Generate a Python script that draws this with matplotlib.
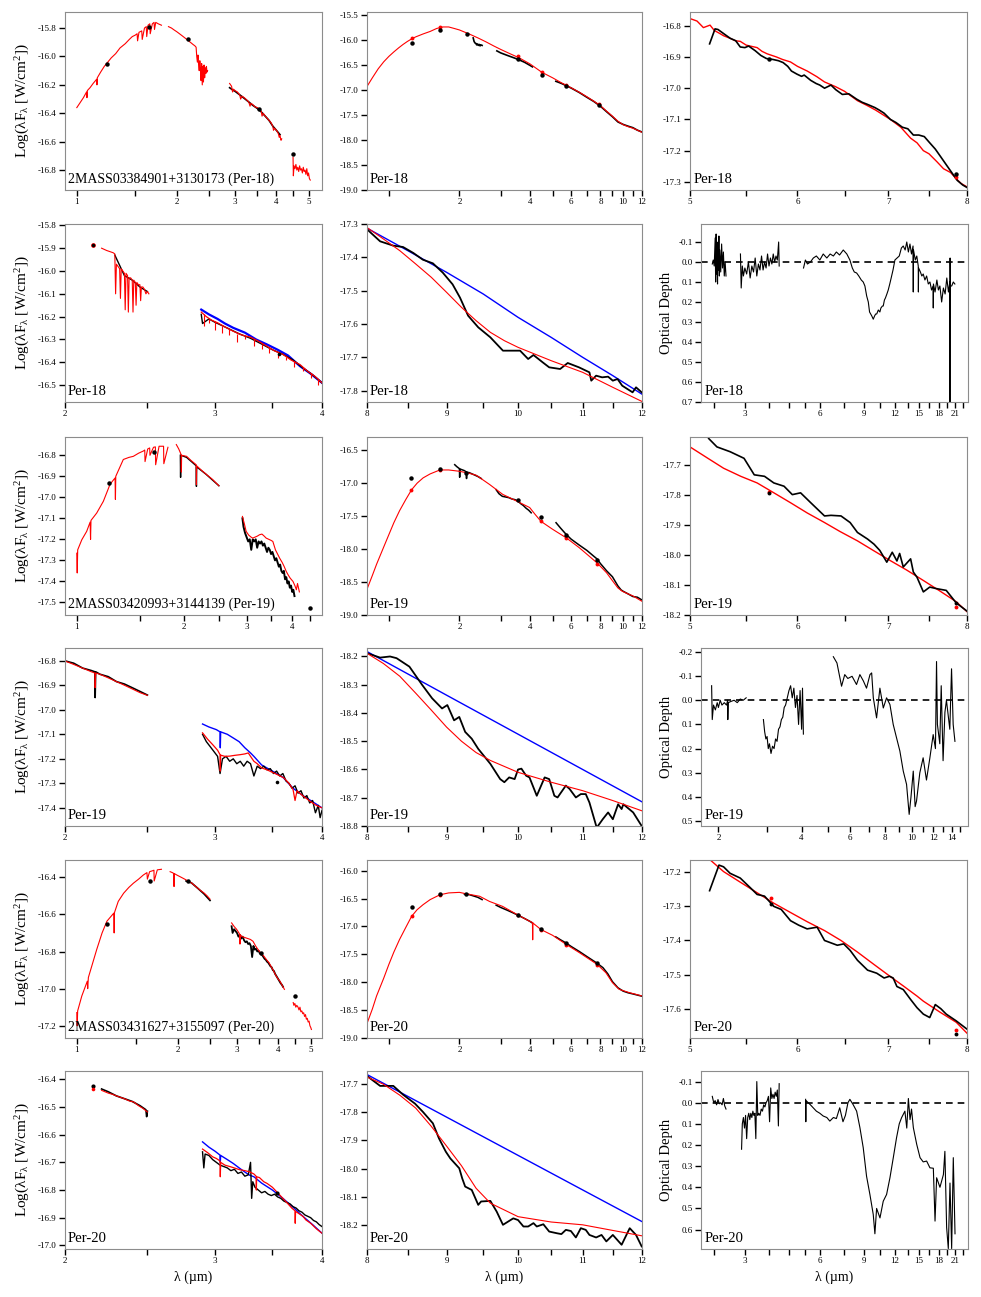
import matplotlib
matplotlib.use("Agg")
import matplotlib.pyplot as plt
from matplotlib.ticker import FormatStrFormatter, NullFormatter, NullLocator

plt.rcParams['font.family'] = ['Liberation Serif', 'DejaVu Serif']
plt.rcParams['mathtext.fontset'] = 'custom'
plt.rcParams['mathtext.rm'] = 'Liberation Serif'
plt.rcParams['mathtext.it'] = 'Liberation Serif:italic'
plt.rcParams['axes.unicode_minus'] = False

# ---------------- Per-18 ----------------
# near-IR SED (row 1, left)
p18_nir_r1_x = [1.00, 1.02, 1.047, 1.07, 1.073, 1.076, 1.096, 1.12, 1.148, 1.15, 1.153, 1.18, 1.21, 1.23, 1.27, 1.31,
                1.35, 1.40, 1.44, 1.47, 1.50, 1.52, 1.525, 1.54, 1.57, 1.575, 1.60, 1.62, 1.625, 1.64, 1.66, 1.665,
                1.69, 1.71, 1.715, 1.73, 1.76, 1.80]
p18_nir_r1_y = [-16.36, -16.33, -16.29, -16.25, -16.29, -16.24, -16.22, -16.19, -16.16, -16.20, -16.15, -16.11, -16.07,
                -16.05, -16.01, -15.98, -15.94, -15.91, -15.88, -15.86, -15.85, -15.84, -15.89, -15.83, -15.82, -15.88,
                -15.80, -15.79, -15.86, -15.78, -15.77, -15.84, -15.77, -15.76, -15.81, -15.76, -15.77, -15.78]
p18_nir_r2_x = [1.89, 1.93, 1.97, 2.00, 2.04, 2.08, 2.12, 2.16, 2.20, 2.24, 2.27, 2.29, 2.30, 2.31, 2.32, 2.33, 2.34,
                2.35, 2.36, 2.37, 2.38, 2.39, 2.40, 2.41, 2.42, 2.43, 2.44, 2.45, 2.46, 2.47, 2.48]
p18_nir_r2_y = [-15.79, -15.80, -15.815, -15.825, -15.84, -15.855, -15.87, -15.885, -15.90, -15.915, -15.925, -15.935,
                -16.00, -16.04, -15.99, -16.06, -16.10, -16.03, -16.08, -16.17, -16.05, -16.20, -16.07, -16.18, -16.06,
                -16.15, -16.08, -16.12, -16.07, -16.11, -16.10]
p18_nir_r3_x = [2.89, 2.93, 2.95, 2.97, 3.00, 3.05, 3.10, 3.12, 3.15, 3.20, 3.25, 3.30, 3.33, 3.35, 3.40, 3.45, 3.50,
                3.55, 3.60, 3.62, 3.65, 3.70, 3.75, 3.80, 3.85, 3.90, 3.92, 3.95, 4.00, 4.05, 4.08, 4.10, 4.13, 4.15]
p18_nir_r3_y = [-16.19, -16.21, -16.25, -16.23, -16.24, -16.25, -16.27, -16.30, -16.28, -16.29, -16.305, -16.32, -16.35,
                -16.33, -16.34, -16.355, -16.36, -16.37, -16.385, -16.42, -16.40, -16.42, -16.435, -16.45, -16.465,
                -16.49, -16.52, -16.505, -16.52, -16.54, -16.57, -16.555, -16.59, -16.58]
p18_nir_r4_x = [4.49, 4.50, 4.52, 4.55, 4.58, 4.61, 4.64, 4.67, 4.70, 4.73, 4.76, 4.79, 4.82, 4.85, 4.88, 4.91, 4.94,
                4.97, 5.00, 5.03, 5.06]
p18_nir_r4_y = [-16.71, -16.84, -16.77, -16.79, -16.76, -16.80, -16.78, -16.81, -16.77, -16.80, -16.79, -16.82, -16.78,
                -16.81, -16.80, -16.83, -16.79, -16.84, -16.82, -16.86, -16.87]
p18_nir_k_x = [2.89, 2.95, 3.00, 3.10, 3.20, 3.30, 3.40, 3.50, 3.60, 3.70, 3.80, 3.90, 4.00, 4.10]
p18_nir_k_y = [-16.22, -16.235, -16.245, -16.27, -16.295, -16.32, -16.345, -16.365, -16.39, -16.42, -16.45, -16.49,
               -16.52, -16.55]
p18_nir_dot_x = [1.235, 1.65, 2.16, 3.55, 4.49]
p18_nir_dot_y = [-16.05, -15.79, -15.88, -16.37, -16.69]

# full SED (row 1, middle)
p18_sed_red_x = [0.80, 0.85, 0.90, 0.95, 1.00, 1.05, 1.10, 1.15, 1.20, 1.25, 1.30, 1.40, 1.50, 1.60, 1.70, 1.80, 1.90,
                 2.00, 2.20, 2.40, 2.60, 2.80, 3.00, 3.30, 3.60, 4.00, 4.50, 5.00, 5.50, 6.00, 6.50, 7.00, 7.50, 8.00,
                 8.50, 9.00, 9.50, 10.0, 10.5, 11.0, 11.5, 12.0]
p18_sed_red_y = [-16.95, -16.75, -16.57, -16.43, -16.32, -16.23, -16.15, -16.08, -16.02, -15.97, -15.93, -15.87, -15.82,
                 -15.76, -15.73, -15.73, -15.76, -15.79, -15.87, -15.95, -16.03, -16.11, -16.18, -16.27, -16.35, -16.47,
                 -16.64, -16.75, -16.86, -16.95, -17.04, -17.13, -17.22, -17.31, -17.42, -17.52, -17.62, -17.69,
                 -17.73, -17.76, -17.80, -17.84]
p18_sed_k1_x = [2.29, 2.31, 2.33, 2.35, 2.37, 2.39, 2.41, 2.43, 2.45, 2.47, 2.50]
p18_sed_k1_y = [-15.95, -16.02, -16.05, -16.06, -16.09, -16.07, -16.10, -16.08, -16.11, -16.09, -16.10]
p18_sed_k2_x = [2.89, 3.0, 3.2, 3.4, 3.6, 3.8, 4.0, 4.1]
p18_sed_k2_y = [-16.21, -16.25, -16.30, -16.345, -16.39, -16.44, -16.50, -16.53]
p18_sed_k3_x = [5.16, 5.3, 5.5, 6.0, 6.5, 7.0, 7.5, 8.0, 8.5, 9.0, 9.5, 10.0, 10.5, 11.0, 11.5, 12.0]
p18_sed_k3_y = [-16.82, -16.84, -16.87, -16.955, -17.045, -17.14, -17.225, -17.32, -17.43, -17.53, -17.635, -17.685,
                -17.72, -17.75, -17.80, -17.835]
p18_sed_kdot_x = [1.25, 1.65, 2.16, 3.55, 4.49, 5.73, 7.87]
p18_sed_kdot_y = [-16.05, -15.80, -15.87, -16.37, -16.70, -16.91, -17.29]
p18_sed_rdot_x = [1.25, 1.65, 3.55, 4.49, 5.73, 7.87]
p18_sed_rdot_y = [-15.96, -15.73, -16.32, -16.64, -16.90, -17.28]

# 5-8 micron (row 1, right)
p18_irs_red_x = [5.00, 5.06, 5.115, 5.173, 5.21, 5.26, 5.293, 5.35, 5.40, 5.445, 5.50, 5.55, 5.603, 5.65, 5.70, 5.79,
                 5.85, 5.93, 6.00, 6.10, 6.20, 6.282, 6.40, 6.50, 6.643, 6.75, 6.85, 7.025, 7.15, 7.27, 7.35, 7.429,
                 7.50, 7.60, 7.688, 7.78, 7.856, 7.92, 8.00]
p18_irs_red_y = [-16.777, -16.785, -16.806, -16.798, -16.815, -16.825, -16.832, -16.84, -16.848, -16.85, -16.862,
                 -16.866, -16.870, -16.882, -16.89, -16.90, -16.908, -16.916, -16.93, -16.945, -16.963, -16.98, -16.995,
                 -17.01, -17.04, -17.055, -17.07, -17.10, -17.125, -17.16, -17.175, -17.20, -17.21, -17.235, -17.258,
                 -17.27, -17.29, -17.305, -17.316]
p18_irs_k_x = [5.169, 5.217, 5.243, 5.293, 5.352, 5.403, 5.445, 5.488, 5.523, 5.585, 5.638, 5.692, 5.755, 5.810, 5.856,
               5.902, 5.939, 5.995, 6.042, 6.069, 6.137, 6.193, 6.232, 6.282, 6.351, 6.404, 6.475, 6.546, 6.633, 6.695,
               6.758, 6.842, 6.893, 6.950, 7.025, 7.092, 7.169, 7.236, 7.304, 7.372, 7.441, 7.510, 7.581, 7.652, 7.723,
               7.795, 7.868, 7.942, 8.0]
p18_irs_k_y = [-16.858, -16.810, -16.812, -16.825, -16.840, -16.848, -16.868, -16.870, -16.865, -16.880, -16.895,
               -16.905, -16.908, -16.912, -16.918, -16.930, -16.945, -16.955, -16.962, -16.958, -16.975, -16.985,
               -16.990, -17.000, -16.990, -17.005, -17.020, -17.018, -17.035, -17.045, -17.052, -17.062, -17.070,
               -17.080, -17.100, -17.110, -17.125, -17.130, -17.150, -17.150, -17.155, -17.175, -17.195, -17.220,
               -17.245, -17.270, -17.295, -17.310, -17.318]
p18_irs_kdot_x = [5.72, 7.85]
p18_irs_kdot_y = [-16.905, -17.275]
p18_irs_rdot_x = [7.85]
p18_irs_rdot_y = [-17.285]

# 2-4 micron (row 2, left)
p18_lm_r1_x = [2.21, 2.24, 2.26, 2.28, 2.29, 2.295, 2.30, 2.31, 2.32, 2.325, 2.33, 2.34, 2.35, 2.355, 2.36, 2.37, 2.375,
               2.38, 2.39, 2.40, 2.405, 2.41, 2.42, 2.425, 2.43, 2.44, 2.45, 2.455, 2.46, 2.47, 2.48, 2.49, 2.50, 2.51]
p18_lm_r1_y = [-15.90, -15.91, -15.915, -15.92, -15.925, -16.10, -15.97, -15.98, -15.99, -16.12, -15.99, -16.00, -16.01,
               -16.17, -16.01, -16.02, -16.18, -16.03, -16.03, -16.04, -16.18, -16.04, -16.05, -16.15, -16.05, -16.06,
               -16.06, -16.13, -16.07, -16.07, -16.08, -16.10, -16.09, -16.10]
p18_lm_k1_x = [2.29, 2.35, 2.40, 2.45, 2.50]
p18_lm_k1_y = [-15.93, -16.02, -16.04, -16.07, -16.09]
p18_lm_blue_x = [2.89, 2.95, 3.02, 3.08, 3.15, 3.25, 3.35, 3.45, 3.55, 3.65, 3.77, 3.88, 4.0]
p18_lm_blue_y = [-16.169, -16.19, -16.21, -16.23, -16.249, -16.27, -16.30, -16.322, -16.345, -16.37, -16.417, -16.45,
                 -16.49]
p18_lm_r2_x = [2.89, 2.93, 2.97, 3.02, 3.08, 3.15, 3.22, 3.30, 3.38, 3.45, 3.52, 3.60, 3.68, 3.77, 3.85, 3.92, 4.0]
p18_lm_r2_y = [-16.18, -16.20, -16.215, -16.227, -16.245, -16.264, -16.28, -16.29, -16.31, -16.33, -16.35, -16.365,
               -16.39, -16.41, -16.44, -16.46, -16.49]
p18_lm_dip_x = [2.91, 2.95, 3.00, 3.06, 3.11, 3.18, 3.25, 3.33, 3.40, 3.47, 3.55, 3.63, 3.71, 3.80, 3.88, 3.96]
p18_lm_dip_top = [-16.19, -16.21, -16.22, -16.24, -16.255, -16.275, -16.285, -16.30, -16.32, -16.335, -16.355,
                  -16.375, -16.395, -16.42, -16.445, -16.475]
p18_lm_dip_bot = [-16.24, -16.23, -16.26, -16.27, -16.28, -16.31, -16.30, -16.33, -16.34, -16.36, -16.38, -16.39,
                  -16.42, -16.44, -16.47, -16.50]
p18_lm_k2_x = [2.89, 2.90, 2.95, 3.0, 3.1, 3.2, 3.3, 3.4, 3.5, 3.6, 3.7, 3.8, 3.9, 4.0]
p18_lm_k2_y = [-16.19, -16.23, -16.21, -16.225, -16.25, -16.275, -16.295, -16.32, -16.345, -16.365, -16.39, -16.425,
               -16.455, -16.49]
p18_lm_dot_x = [2.16, 3.56]
p18_lm_dot_y = [-15.885, -16.365]

# 8-12 micron (row 2, middle)
p18_si_blue_x = [8.0, 8.5, 9.0, 9.5, 10.0, 10.5, 11.0, 11.5, 12.0]
p18_si_blue_y = [-17.312, -17.38, -17.445, -17.51, -17.58, -17.64, -17.70, -17.755, -17.81]
p18_si_red_x = [8.0, 8.2, 8.4, 8.6, 8.8, 9.0, 9.2, 9.4, 9.6, 9.8, 10.0, 10.5, 11.0, 11.5, 12.0]
p18_si_red_y = [-17.31, -17.345, -17.38, -17.42, -17.46, -17.505, -17.55, -17.59, -17.625, -17.65, -17.67, -17.71,
                -17.745, -17.79, -17.832]
p18_si_k_x = [8.0, 8.16, 8.32, 8.44, 8.57, 8.69, 8.82, 8.95, 9.08, 9.18, 9.29, 9.43, 9.60, 9.78, 10.03, 10.15, 10.23,
              10.37, 10.47, 10.64, 10.76, 10.94, 11.11, 11.14, 11.22, 11.32, 11.42, 11.50, 11.58, 11.66, 11.84, 11.90,
              12.0]
p18_si_k_y = [-17.315, -17.352, -17.365, -17.369, -17.387, -17.407, -17.418, -17.446, -17.481, -17.521, -17.575, -17.61,
              -17.64, -17.68, -17.68, -17.705, -17.693, -17.715, -17.73, -17.735, -17.717, -17.73, -17.745, -17.77,
              -17.755, -17.76, -17.758, -17.77, -17.765, -17.785, -17.805, -17.79, -17.805]

# optical depth (row 2, right)
p18_tau_a_x = [2.22, 2.24, 2.26, 2.28, 2.29, 2.30, 2.31, 2.32, 2.33, 2.34, 2.35, 2.36, 2.37, 2.38, 2.40, 2.42, 2.44,
               2.46, 2.48, 2.50, 2.52]
p18_tau_a_y = [0.01, -0.01, 0.02, -0.12, 0.10, -0.14, 0.06, -0.08, 0.11, -0.10, 0.04, -0.13, 0.07, -0.06, 0.05, -0.09,
               0.03, -0.05, 0.07, 0.0, 0.07]
p18_tau_b_x = [2.88, 2.90, 2.93, 2.96, 3.00, 3.05, 3.10, 3.15, 3.20, 3.25, 3.30, 3.35, 3.40, 3.45, 3.50, 3.55, 3.60,
               3.65, 3.70, 3.75, 3.80, 3.85, 3.90, 3.95, 4.00, 4.05, 4.10, 4.12]
p18_tau_b_y = [-0.04, 0.13, 0.02, 0.07, 0.03, 0.06, 0.00, 0.08, 0.02, 0.05, -0.02, 0.07, 0.01, 0.04, -0.03, 0.04, 0.00,
               0.03, -0.04, 0.02, -0.02, 0.01, -0.04, 0.00, -0.03, -0.01, -0.10, 0.02]
p18_tau_c_x = [5.16, 5.25, 5.35, 5.5, 5.65, 5.81, 6.0, 6.19, 6.4, 6.6, 6.8, 6.99, 7.2, 7.45, 7.7, 7.92, 8.1, 8.25, 8.43,
               8.6, 8.8, 8.96, 9.1, 9.25, 9.39, 9.5, 9.6, 9.7, 9.83, 9.95, 10.05, 10.15, 10.30, 10.45, 10.55, 10.7,
               10.78, 10.9, 11.0, 11.15, 11.29, 11.45, 11.6, 11.8, 12.01, 12.25, 12.5, 12.75, 12.97, 13.2, 13.4, 13.6,
               13.8, 14.0, 14.2, 14.23, 14.26, 14.5, 14.7, 14.9, 14.92, 14.95, 15.2, 15.4, 15.6, 15.85, 16.1, 16.35,
               16.6, 16.85, 17.1, 17.12, 17.15, 17.4, 17.7, 17.95, 18.2, 18.5, 18.8, 19.1, 19.4, 19.7, 19.95, 19.97,
               20.0, 20.03, 20.3, 20.6, 20.9]
p18_tau_c_y = [0.03, -0.01, 0.01, 0.0, -0.02, -0.03, -0.01, -0.04, -0.02, -0.04, -0.03, -0.05, -0.035, -0.06, -0.04,
               -0.01, 0.03, 0.05, 0.055, 0.07, 0.09, 0.10, 0.12, 0.17, 0.20, 0.25, 0.26, 0.27, 0.286, 0.27, 0.26, 0.26,
               0.24, 0.25, 0.23, 0.22, 0.22, 0.19, 0.18, 0.16, 0.14, 0.11, 0.08, 0.04, -0.01, -0.02, -0.03, -0.07,
               -0.08, -0.06, -0.10, -0.05, -0.09, -0.04, -0.08, 0.15, -0.06, -0.01, -0.03, 0.02, 0.15, 0.03, 0.05, 0.07,
               0.06, 0.09, 0.07, 0.11, 0.10, 0.14, 0.12, 0.23, 0.11, 0.15, 0.09, 0.14, 0.12, 0.20, 0.13, 0.16, 0.08,
               0.15, 0.10, 0.70, -0.02, 0.12, 0.12, 0.10, 0.11]

# ---------------- Per-19 ----------------
p19_nir_r1_x = [1.00, 1.003, 1.006, 1.033, 1.066, 1.09, 1.093, 1.096, 1.137, 1.187, 1.24, 1.28, 1.283, 1.286, 1.35,
                1.40, 1.44, 1.49, 1.535, 1.55, 1.553, 1.58, 1.60, 1.603, 1.64, 1.66, 1.663, 1.70, 1.75, 1.753, 1.80]
p19_nir_r1_y = [-17.266, -17.36, -17.25, -17.202, -17.162, -17.118, -17.20, -17.11, -17.075, -17.019, -16.937, -16.908,
                -17.01, -16.90, -16.82, -16.81, -16.805, -16.79, -16.78, -16.775, -16.83, -16.77, -16.765, -16.80,
                -16.762, -16.76, -16.845, -16.757, -16.757, -16.84, -16.762]
p19_nir_r2_x = [1.90, 1.93, 1.96, 1.963, 1.966, 2.03, 2.09, 2.16, 2.163, 2.166, 2.23, 2.31, 2.40, 2.50]
p19_nir_r2_y = [-16.749, -16.77, -16.797, -16.88, -16.80, -16.805, -16.825, -16.845, -16.94, -16.85, -16.87, -16.892,
                -16.915, -16.945]
p19_nir_k2_x = [1.95, 1.953, 1.956, 2.03, 2.16, 2.163, 2.166, 2.3, 2.5]
p19_nir_k2_y = [-16.80, -16.905, -16.80, -16.81, -16.85, -16.948, -16.855, -16.89, -16.945]
p19_nir_r3_x = [2.91, 2.95, 2.98, 3.03, 3.08, 3.11, 3.15, 3.20, 3.25, 3.30, 3.35, 3.39, 3.45, 3.50, 3.54, 3.60, 3.65,
                3.70, 3.76, 3.81, 3.86, 3.91, 3.96, 4.03, 4.08, 4.12, 4.15, 4.2]
p19_nir_r3_y = [-17.091, -17.13, -17.162, -17.18, -17.19, -17.194, -17.19, -17.185, -17.178, -17.175, -17.185, -17.194,
                -17.20, -17.205, -17.21, -17.25, -17.27, -17.29, -17.31, -17.33, -17.353, -17.37, -17.385, -17.40,
                -17.42, -17.44, -17.41, -17.45]
p19_nir_k3_x = [2.91, 2.93, 2.96, 2.99, 3.02, 3.05, 3.08, 3.11, 3.14, 3.17, 3.20, 3.23, 3.26, 3.29, 3.32, 3.35, 3.38,
                3.41, 3.44, 3.47, 3.50, 3.53, 3.56, 3.59, 3.62, 3.65, 3.68, 3.71, 3.74, 3.77, 3.80, 3.83, 3.86, 3.89,
                3.92, 3.95, 3.98, 4.01, 4.04, 4.07]
p19_nir_k3_y = [-17.10, -17.14, -17.17, -17.19, -17.21, -17.20, -17.25, -17.20, -17.21, -17.20, -17.24, -17.21, -17.22,
                -17.21, -17.23, -17.22, -17.24, -17.26, -17.24, -17.25, -17.27, -17.26, -17.28, -17.30, -17.29, -17.31,
                -17.33, -17.32, -17.35, -17.36, -17.35, -17.39, -17.38, -17.41, -17.40, -17.43, -17.42, -17.45, -17.44,
                -17.47]
p19_nir_dot_x = [1.23, 1.65, 4.51]
p19_nir_dot_y = [-16.932, -16.786, -17.525]

p19_sed_red_x = [0.80, 0.85, 0.886, 0.95, 1.0, 1.05, 1.11, 1.18, 1.25, 1.32, 1.40, 1.50, 1.65, 1.80, 2.0, 2.2, 2.36,
                 2.69, 3.06, 3.5, 3.99, 4.2, 4.46, 5.0, 5.72, 6.5, 7.74, 8.5, 9.0, 9.5, 9.92, 10.5, 11.0, 12.0]
p19_sed_red_y = [-18.64, -18.40, -18.23, -17.97, -17.78, -17.60, -17.42, -17.25, -17.10, -17.00, -16.92, -16.86, -16.80,
                 -16.80, -16.82, -16.85, -16.88, -17.02, -17.17, -17.27, -17.37, -17.47, -17.58, -17.70, -17.83,
                 -17.98, -18.21, -18.36, -18.48, -18.59, -18.64, -18.68, -18.71, -18.79]
p19_sed_k1_x = [1.91, 1.95, 2.0, 2.005, 2.01, 2.1, 2.14, 2.145, 2.15, 2.2, 2.3, 2.4, 2.48]
p19_sed_k1_y = [-16.72, -16.75, -16.78, -16.91, -16.785, -16.81, -16.83, -16.93, -16.835, -16.84, -16.87, -16.90,
                -16.93]
p19_sed_k2_x = [2.87, 2.95, 3.05, 3.15, 3.25, 3.35, 3.45, 3.55, 3.65, 3.75, 3.85, 3.95, 4.05]
p19_sed_k2_y = [-17.10, -17.16, -17.20, -17.21, -17.22, -17.24, -17.25, -17.27, -17.31, -17.34, -17.38, -17.41, -17.45]
p19_sed_k3_x = [5.17, 5.4, 5.72, 6.0, 6.5, 7.0, 7.5, 7.74, 8.0, 8.5, 9.0, 9.5, 9.8, 10.0, 10.5, 11.0, 11.5, 12.0]
p19_sed_k3_y = [-17.60, -17.68, -17.78, -17.85, -17.94, -18.02, -18.11, -18.15, -18.22, -18.33, -18.42, -18.56, -18.62,
                -18.64, -18.68, -18.72, -18.73, -18.77]
p19_sed_kdot_x = [1.24, 1.65, 2.14, 3.54, 4.46, 5.72, 7.74]
p19_sed_kdot_y = [-16.92, -16.78, -16.85, -17.26, -17.52, -17.78, -18.16]
p19_sed_rdot_x = [1.24, 1.65, 4.46, 5.72, 7.74]
p19_sed_rdot_y = [-17.10, -16.80, -17.58, -17.83, -18.22]

p19_irs_red_x = [5.0, 5.15, 5.293, 5.45, 5.603, 5.75, 5.930, 6.10, 6.282, 6.45, 6.643, 6.83, 7.025, 7.22, 7.429, 7.64,
                 7.856, 8.0]
p19_irs_red_y = [-17.64, -17.677, -17.711, -17.738, -17.76, -17.79, -17.826, -17.86, -17.892, -17.922, -17.953, -17.986,
                 -18.019, -18.05, -18.085, -18.12, -18.156, -18.189]
p19_irs_k_x = [5.161, 5.234, 5.352, 5.480, 5.576, 5.674, 5.764, 5.865, 5.948, 6.032, 6.137, 6.282, 6.351, 6.460, 6.561,
               6.643, 6.758, 6.832, 6.90, 6.982, 7.047, 7.103, 7.136, 7.180, 7.270, 7.304, 7.349, 7.429, 7.510, 7.593,
               7.723, 7.856, 8.0]
p19_irs_k_y = [-17.612, -17.64, -17.656, -17.678, -17.733, -17.738, -17.76, -17.771, -17.799, -17.793, -17.826, -17.87,
               -17.868, -17.87, -17.892, -17.925, -17.947, -17.964, -17.985, -18.024, -17.991, -18.02, -17.995, -18.04,
               -18.013, -18.057, -18.074, -18.123, -18.107, -18.112, -18.118, -18.16, -18.187]
p19_irs_kdot_x = [5.72, 7.85]
p19_irs_kdot_y = [-17.795, -18.16]
p19_irs_rdot_x = [5.72, 7.85]
p19_irs_rdot_y = [-17.79, -18.172]

p19_lm_r1_x = [2.0, 2.05, 2.10, 2.15, 2.17, 2.172, 2.175, 2.20, 2.25, 2.30, 2.35, 2.40, 2.45, 2.50]
p19_lm_r1_y = [-16.80, -16.815, -16.83, -16.845, -16.85, -16.91, -16.85, -16.855, -16.87, -16.885, -16.90, -16.915,
               -16.93, -16.941]
p19_lm_k1_x = [2.0, 2.05, 2.10, 2.15, 2.17, 2.172, 2.175, 2.20, 2.25, 2.30, 2.35, 2.40, 2.45, 2.50]
p19_lm_k1_y = [-16.80, -16.81, -16.83, -16.84, -16.845, -16.95, -16.845, -16.855, -16.865, -16.885, -16.895, -16.91,
               -16.925, -16.94]
p19_lm_blue_x = [2.90, 2.95, 3.01, 3.04, 3.042, 3.045, 3.10, 3.15, 3.20, 3.25, 3.30, 3.33, 3.40, 3.50, 3.60, 3.70,
                 3.80, 3.90, 4.0]
p19_lm_blue_y = [-17.058, -17.07, -17.081, -17.09, -17.155, -17.09, -17.10, -17.115, -17.13, -17.155, -17.176, -17.19,
                 -17.225, -17.25, -17.275, -17.32, -17.35, -17.375, -17.40]
p19_lm_r2_x = [2.90, 2.94, 2.98, 3.02, 3.04, 3.042, 3.045, 3.08, 3.12, 3.16, 3.21, 3.25, 3.28, 3.30, 3.33, 3.36, 3.40,
               3.45, 3.50, 3.55, 3.61, 3.66, 3.70, 3.72, 3.74, 3.78, 3.83, 3.88, 3.94, 4.0]
p19_lm_r2_y = [-17.094, -17.12, -17.142, -17.165, -17.183, -17.25, -17.185, -17.19, -17.189, -17.186, -17.183, -17.18,
               -17.176, -17.19, -17.21, -17.22, -17.237, -17.245, -17.255, -17.265, -17.278, -17.30, -17.325, -17.37,
               -17.33, -17.345, -17.36, -17.375, -17.39, -17.40]
p19_lm_k2_x = [2.90, 2.93, 2.96, 2.99, 3.02, 3.04, 3.06, 3.09, 3.12, 3.15, 3.18, 3.21, 3.24, 3.27, 3.30, 3.33, 3.36,
               3.39, 3.42, 3.45, 3.48, 3.51, 3.54, 3.57, 3.60, 3.63, 3.66, 3.69, 3.72, 3.75, 3.78, 3.81, 3.84, 3.87,
               3.90, 3.93, 3.96, 3.98, 4.0]
p19_lm_k2_y = [-17.10, -17.13, -17.15, -17.17, -17.19, -17.26, -17.20, -17.19, -17.21, -17.20, -17.22, -17.21, -17.23,
               -17.21, -17.22, -17.27, -17.23, -17.24, -17.23, -17.245, -17.24, -17.26, -17.25, -17.27, -17.26, -17.29,
               -17.30, -17.32, -17.31, -17.34, -17.33, -17.36, -17.35, -17.38, -17.37, -17.42, -17.39, -17.44, -17.41]
p19_lm_dot_x = [3.54]
p19_lm_dot_y = [-17.294]

p19_si_blue_x = [8.0, 9.0, 10.0, 11.0, 12.0]
p19_si_blue_y = [-18.182, -18.337, -18.475, -18.600, -18.714]
p19_si_red_x = [8.0, 8.2, 8.4, 8.6, 8.8, 9.0, 9.2, 9.4, 9.6, 10.0, 10.5, 11.0, 11.5, 12.0]
p19_si_red_y = [-18.188, -18.225, -18.27, -18.33, -18.39, -18.45, -18.50, -18.54, -18.568, -18.61, -18.645, -18.675,
                -18.71, -18.746]
p19_si_k_x = [8.0, 8.16, 8.28, 8.36, 8.52, 8.68, 8.81, 8.94, 9.01, 9.10, 9.17, 9.25, 9.34, 9.43, 9.60, 9.74, 9.80, 9.87,
              9.95, 10.00, 10.05, 10.12, 10.17, 10.28, 10.40, 10.47, 10.55, 10.60, 10.73, 10.79, 10.89, 10.97, 11.05,
              11.11, 11.23, 11.33, 11.42, 11.50, 11.59, 11.65, 11.68, 11.85, 12.0]
p19_si_k_y = [-18.188, -18.204, -18.20, -18.206, -18.236, -18.30, -18.348, -18.384, -18.372, -18.426, -18.414, -18.467,
              -18.491, -18.527, -18.58, -18.634, -18.645, -18.628, -18.634, -18.600, -18.597, -18.622, -18.628, -18.693,
              -18.628, -18.634, -18.693, -18.699, -18.657, -18.669, -18.699, -18.687, -18.687, -18.717, -18.806,
              -18.776, -18.752, -18.776, -18.723, -18.740, -18.723, -18.752, -18.800]

p19_tau_a_x = [1.89, 1.90, 1.92, 1.95, 1.98, 2.00, 2.03, 2.06, 2.10, 2.14, 2.16, 2.163, 2.17, 2.22, 2.28, 2.34, 2.40,
               2.46, 2.52]
p19_tau_a_y = [-0.06, 0.08, 0.02, 0.04, 0.01, 0.03, 0.0, 0.02, 0.01, 0.02, 0.0, 0.08, 0.01, 0.005, 0.0, 0.01, -0.005,
               0.0, -0.01]
p19_tau_b_x = [2.91, 2.94, 2.97, 3.00, 3.03, 3.06, 3.10, 3.14, 3.18, 3.22, 3.26, 3.30, 3.34, 3.38, 3.42, 3.46, 3.50,
               3.55, 3.60, 3.65, 3.70, 3.75, 3.80, 3.85, 3.90, 3.95, 4.00, 4.03, 4.06]
p19_tau_b_y = [0.08, 0.13, 0.16, 0.15, 0.20, 0.18, 0.22, 0.19, 0.20, 0.16, 0.17, 0.12, 0.11, 0.08, 0.07, 0.03, 0.02,
               -0.01, -0.04, -0.06, -0.01, -0.05, 0.03, -0.02, 0.10, -0.04, 0.12, -0.05, 0.14]
p19_tau_c_x = [5.21, 5.37, 5.58, 5.73, 5.88, 6.09, 6.32, 6.50, 6.69, 6.87, 7.07, 7.17, 7.27, 7.47, 7.68, 7.90, 8.12,
               8.35, 8.58, 8.82, 9.07, 9.33, 9.59, 9.80, 9.95, 10.14, 10.3, 10.42, 10.71, 11.01, 11.32, 11.64, 11.97,
               12.2, 12.31, 12.4, 12.65, 12.8, 13.0, 13.2, 13.37, 13.75, 13.95, 14.14, 14.35]
p19_tau_c_y = [-0.18, -0.154, -0.058, -0.106, -0.09, -0.099, -0.065, -0.106, -0.08, -0.05, -0.106, -0.113, -0.01,
               0.073, -0.05, 0.032, -0.01, 0.018, 0.10, 0.155, 0.21, 0.293, 0.348, 0.472, 0.40, 0.293, 0.44, 0.417,
               0.30, 0.238, 0.33, 0.24, 0.142, 0.20, -0.16, 0.10, 0.18, -0.06, 0.25, 0.05, 0.0, 0.12, -0.13, 0.10,
               0.17]

# ---------------- Per-20 ----------------
p20_nir_r1_x = [1.0, 1.003, 1.006, 1.035, 1.075, 1.078, 1.083, 1.147, 1.19, 1.23, 1.29, 1.293, 1.296, 1.33, 1.38, 1.43,
                1.476, 1.53, 1.58, 1.62, 1.625, 1.65, 1.69, 1.70, 1.703, 1.74, 1.79]
p20_nir_r1_y = [-17.129, -17.20, -17.12, -17.04, -16.96, -17.0, -16.94, -16.789, -16.70, -16.637, -16.593, -16.70,
                -16.59, -16.53, -16.486, -16.455, -16.432, -16.41, -16.388, -16.375, -16.41, -16.37, -16.364, -16.362,
                -16.42, -16.36, -16.357]
p20_nir_r2_x = [1.90, 1.93, 1.95, 1.952, 1.955, 1.99, 2.05, 2.10, 2.15, 2.20, 2.25, 2.33, 2.40, 2.45, 2.50]
p20_nir_r2_y = [-16.37, -16.375, -16.38, -16.45, -16.38, -16.388, -16.40, -16.41, -16.42, -16.43, -16.445, -16.468,
                -16.485, -16.50, -16.518]
p20_nir_k2_x = [2.12, 2.2, 2.3, 2.4, 2.5]
p20_nir_k2_y = [-16.42, -16.43, -16.46, -16.49, -16.525]
p20_nir_r3_x = [2.90, 2.95, 3.00, 3.05, 3.07, 3.072, 3.075, 3.12, 3.18, 3.24, 3.30, 3.36, 3.42, 3.48, 3.55, 3.62, 3.69,
                3.75, 3.80, 3.86, 3.92, 3.98, 4.04, 4.10, 4.17]
p20_nir_r3_y = [-16.646, -16.665, -16.68, -16.70, -16.71, -16.76, -16.71, -16.72, -16.725, -16.73, -16.735, -16.745,
                -16.77, -16.79, -16.81, -16.825, -16.845, -16.86, -16.879, -16.90, -16.925, -16.945, -16.959, -16.98,
                -17.004]
p20_nir_k3_x = [2.90, 2.92, 2.95, 2.98, 3.01, 3.04, 3.07, 3.10, 3.13, 3.16, 3.19, 3.22, 3.25, 3.28, 3.31, 3.34, 3.37,
                3.40, 3.43, 3.46, 3.49, 3.52, 3.55, 3.58, 3.61, 3.64, 3.67, 3.70, 3.73, 3.76, 3.79, 3.82, 3.85, 3.88,
                3.91, 3.94, 3.97, 4.00, 4.03, 4.06, 4.10, 4.13]
p20_nir_k3_y = [-16.664, -16.70, -16.68, -16.69, -16.70, -16.72, -16.71, -16.73, -16.72, -16.74, -16.75, -16.745,
                -16.76, -16.755, -16.77, -16.83, -16.77, -16.79, -16.785, -16.80, -16.795, -16.81, -16.815, -16.82,
                -16.83, -16.84, -16.845, -16.855, -16.86, -16.87, -16.88, -16.885, -16.90, -16.905, -16.92, -16.93,
                -16.94, -16.95, -16.96, -16.97, -16.98, -16.99]
p20_nir_r4_x = [4.43, 4.45, 4.48, 4.51, 4.54, 4.58, 4.61, 4.64, 4.67, 4.70, 4.73, 4.76, 4.79, 4.82, 4.85, 4.88, 4.91,
                4.94, 4.97, 5.0, 5.02]
p20_nir_r4_y = [-17.075, -17.09, -17.08, -17.10, -17.09, -17.10, -17.115, -17.10, -17.125, -17.12, -17.135, -17.13,
                -17.15, -17.14, -17.165, -17.16, -17.18, -17.175, -17.20, -17.21, -17.22]
p20_nir_dot_x = [1.23, 1.65, 2.15, 3.54, 4.48]
p20_nir_dot_y = [-16.65, -16.42, -16.42, -16.807, -17.04]

p20_sed_red_x = [0.80, 0.85, 0.886, 0.95, 1.0, 1.05, 1.11, 1.18, 1.25, 1.32, 1.40, 1.50, 1.65, 1.80, 2.0, 2.14, 2.44,
                 2.69, 3.06, 3.5, 3.99, 4.10, 4.11, 4.12, 4.46, 5.0, 5.72, 6.5, 7.74, 8.44, 9.0, 9.61, 10.6, 12.0]
p20_sed_red_y = [-18.78, -18.48, -18.246, -17.93, -17.68, -17.46, -17.236, -17.02, -16.82, -16.70, -16.61, -16.52,
                 -16.434, -16.40, -16.39, -16.416, -16.46, -16.553, -16.642, -16.78, -16.909, -16.93, -17.24, -16.94,
                 -17.057, -17.16, -17.324, -17.47, -17.68, -17.83, -18.007, -18.127, -18.186, -18.245]
p20_sed_k1_x = [2.10, 2.2, 2.3, 2.4, 2.5]
p20_sed_k1_y = [-16.42, -16.43, -16.455, -16.48, -16.52]
p20_sed_k2_x = [2.87, 3.0, 3.2, 3.4, 3.6, 3.8, 4.0, 4.1]
p20_sed_k2_y = [-16.62, -16.66, -16.71, -16.76, -16.81, -16.86, -16.91, -16.94]
p20_sed_k3_x = [5.16, 5.4, 5.72, 6.0, 6.5, 7.0, 7.74, 8.2, 8.6, 9.0, 9.5, 10.0, 10.5, 11.0, 12.0]
p20_sed_k3_y = [-17.188, -17.24, -17.30, -17.36, -17.45, -17.54, -17.66, -17.74, -17.85, -17.99, -18.10, -18.16,
                -18.19, -18.21, -18.25]
p20_sed_kdot_x = [1.25, 1.65, 2.14, 3.55, 4.46, 5.72, 7.74]
p20_sed_kdot_y = [-16.65, -16.42, -16.42, -16.80, -17.04, -17.30, -17.66]
p20_sed_rdot_x = [1.25, 1.65, 3.55, 4.46, 5.72, 7.74]
p20_sed_rdot_y = [-16.82, -16.43, -16.79, -17.06, -17.33, -17.69]

p20_irs_red_x = [5.16, 5.175, 5.293, 5.45, 5.603, 5.76, 5.930, 6.10, 6.282, 6.46, 6.643, 6.83, 7.025, 7.19, 7.349,
                 7.429, 7.64, 7.856, 8.0]
p20_irs_red_y = [-17.15, -17.164, -17.198, -17.23, -17.26, -17.29, -17.318, -17.345, -17.371, -17.40, -17.434, -17.47,
                 -17.506, -17.535, -17.563, -17.578, -17.61, -17.64, -17.672]
p20_irs_k_x = [5.169, 5.252, 5.293, 5.352, 5.445, 5.541, 5.603, 5.674, 5.764, 5.837, 5.930, 6.012, 6.099, 6.204, 6.282,
               6.420, 6.49, 6.561, 6.643, 6.758, 6.864, 6.950, 7.014, 7.058, 7.103, 7.180, 7.270, 7.349, 7.429, 7.510,
               7.581, 7.652, 7.723, 7.856, 8.0]
p20_irs_k_y = [-17.254, -17.179, -17.184, -17.203, -17.217, -17.246, -17.265, -17.27, -17.30, -17.309, -17.342, -17.355,
               -17.366, -17.361, -17.40, -17.414, -17.41, -17.429, -17.458, -17.487, -17.496, -17.51, -17.505, -17.51,
               -17.535, -17.544, -17.573, -17.597, -17.616, -17.626, -17.588, -17.60, -17.616, -17.636, -17.66]
p20_irs_kdot_x = [5.737, 7.856]
p20_irs_kdot_y = [-17.294, -17.674]
p20_irs_rdot_x = [5.737, 7.856]
p20_irs_rdot_y = [-17.275, -17.664]

p20_lm_r1_x = [2.21, 2.25, 2.28, 2.30, 2.32, 2.35, 2.38, 2.41, 2.44, 2.47, 2.50]
p20_lm_r1_y = [-16.44, -16.45, -16.455, -16.46, -16.464, -16.47, -16.478, -16.482, -16.495, -16.505, -16.518]
p20_lm_k1_x = [2.21, 2.25, 2.30, 2.35, 2.40, 2.45, 2.49, 2.495, 2.50]
p20_lm_k1_y = [-16.435, -16.445, -16.46, -16.47, -16.48, -16.495, -16.51, -16.535, -16.515]
p20_lm_blue_x = [2.90, 2.95, 3.0, 3.04, 3.042, 3.045, 3.10, 3.15, 3.20, 3.25, 3.29, 3.33, 3.40, 3.50, 3.60, 3.70,
                 3.80, 3.90, 4.0]
p20_lm_blue_y = [-16.626, -16.645, -16.66, -16.674, -16.70, -16.675, -16.69, -16.704, -16.72, -16.735, -16.746,
                 -16.752, -16.775, -16.80, -16.83, -16.862, -16.895, -16.925, -16.956]
p20_lm_r2_x = [2.90, 2.94, 2.98, 3.01, 3.04, 3.042, 3.045, 3.08, 3.12, 3.15, 3.20, 3.25, 3.29, 3.33, 3.35, 3.352,
               3.355, 3.38, 3.42, 3.45, 3.50, 3.55, 3.60, 3.65, 3.69, 3.72, 3.722, 3.725, 3.80, 3.83, 3.88, 3.94, 4.0]
p20_lm_r2_y = [-16.652, -16.665, -16.68, -16.686, -16.695, -16.752, -16.70, -16.71, -16.715, -16.719, -16.726, -16.73,
               -16.734, -16.742, -16.75, -16.80, -16.752, -16.755, -16.77, -16.776, -16.79, -16.81, -16.83, -16.85,
               -16.866, -16.875, -16.92, -16.877, -16.895, -16.908, -16.92, -16.94, -16.956]
p20_lm_k2_x = [2.90, 2.91, 2.92, 2.95, 2.98, 3.01, 3.04, 3.07, 3.10, 3.13, 3.16, 3.19, 3.22, 3.25, 3.28, 3.30, 3.31,
               3.32, 3.34, 3.37, 3.40, 3.43, 3.46, 3.49, 3.52, 3.55, 3.58, 3.61, 3.64, 3.67, 3.70, 3.73, 3.76, 3.79,
               3.82, 3.85, 3.88, 3.91, 3.94, 3.97, 4.0]
p20_lm_k2_y = [-16.662, -16.72, -16.67, -16.675, -16.69, -16.70, -16.71, -16.715, -16.72, -16.73, -16.725, -16.74,
               -16.735, -16.75, -16.745, -16.70, -16.83, -16.77, -16.79, -16.80, -16.81, -16.805, -16.815, -16.82,
               -16.815, -16.825, -16.83, -16.84, -16.845, -16.85, -16.86, -16.865, -16.875, -16.88, -16.89, -16.895,
               -16.90, -16.91, -16.915, -16.925, -16.932]
p20_lm_kdot_x = [2.16, 3.54]
p20_lm_kdot_y = [-16.425, -16.812]
p20_lm_rdot_x = [2.16]
p20_lm_rdot_y = [-16.435]

p20_si_blue_x = [8.0, 9.0, 10.0, 11.0, 12.0]
p20_si_blue_y = [-17.665, -17.817, -17.953, -18.076, -18.188]
p20_si_red_x = [8.0, 8.2, 8.4, 8.6, 8.8, 9.0, 9.2, 9.4, 9.6, 10.0, 10.5, 11.0, 11.5, 12.0]
p20_si_red_y = [-17.674, -17.70, -17.739, -17.785, -17.85, -17.92, -17.99, -18.07, -18.123, -18.171, -18.19, -18.20,
                -18.22, -18.239]
p20_si_k_x = [8.0, 8.16, 8.32, 8.44, 8.59, 8.69, 8.82, 8.90, 8.99, 9.05, 9.17, 9.21, 9.25, 9.34, 9.43, 9.47, 9.60, 9.69,
              9.78, 9.93, 10.0, 10.08, 10.15, 10.23, 10.28, 10.38, 10.47, 10.59, 10.66, 10.73, 10.81, 10.89, 10.97,
              11.05, 11.11, 11.22, 11.31, 11.39, 11.50, 11.65, 11.79, 11.90, 12.0]
p20_si_k_y = [-17.670, -17.706, -17.706, -17.737, -17.769, -17.798, -17.839, -17.893, -17.94, -17.964, -17.999, -18.035,
              -18.064, -18.076, -18.129, -18.117, -18.115, -18.153, -18.20, -18.177, -18.183, -18.206, -18.206,
              -18.194, -18.206, -18.198, -18.224, -18.230, -18.233, -18.218, -18.222, -18.245, -18.212, -18.218,
              -18.236, -18.245, -18.236, -18.259, -18.236, -18.271, -18.212, -18.236, -18.277]

p20_tau_a_x = [2.22, 2.25, 2.28, 2.31, 2.34, 2.37, 2.40, 2.43, 2.46, 2.49, 2.52]
p20_tau_a_y = [-0.03, 0.0, -0.01, 0.01, -0.015, 0.005, 0.0, 0.01, -0.02, 0.015, 0.03]
p20_tau_b_x = [2.91, 2.93, 2.96, 2.99, 3.02, 3.05, 3.08, 3.11, 3.14, 3.17, 3.20, 3.23, 3.26, 3.29, 3.32, 3.35, 3.38,
               3.41, 3.45, 3.49, 3.53, 3.57, 3.61, 3.65, 3.69, 3.73, 3.77, 3.81, 3.85, 3.89, 3.93, 3.97, 4.01, 4.05,
               4.09, 4.12]
p20_tau_b_y = [0.22, 0.10, 0.07, 0.12, 0.06, 0.17, 0.07, 0.05, 0.08, 0.05, 0.07, 0.04, 0.06, 0.05, 0.17, -0.10, 0.06,
               0.05, 0.06, 0.03, 0.04, 0.01, 0.02, 0.0, -0.01, -0.03, 0.09, -0.07, -0.02, -0.04, -0.02, -0.05, -0.03,
               -0.06, 0.11, -0.09]
p20_tau_c_x = [5.26, 5.27, 5.28, 5.50, 5.81, 6.0, 6.19, 6.4, 6.58, 6.8, 6.99, 7.21, 7.43, 7.6, 7.78, 7.92, 8.17, 8.43,
               8.69, 8.96, 9.24, 9.53, 9.83, 9.98, 10.14, 10.46, 10.78, 11.12, 11.47, 11.83, 12.19, 12.5, 12.77, 13.17,
               13.4, 13.6, 13.81, 14.0, 14.24, 14.69, 15.15, 15.6, 16.1, 16.6, 17.13, 17.4, 17.66, 18.21, 18.8, 19.06,
               19.37, 19.67, 19.98, 20.29, 20.6, 20.93]
p20_tau_c_y = [-0.016, 0.09, -0.01, 0.01, 0.04, 0.05, 0.063, 0.07, 0.087, 0.07, 0.075, 0.024, 0.09, 0.06, 0.0, -0.016,
               0.01, 0.04, 0.118, 0.213, 0.348, 0.434, 0.529, 0.62, 0.50, 0.545, 0.466, 0.434, 0.355, 0.26, 0.166, 0.10,
               0.071, 0.04, 0.12, -0.02, 0.08, 0.03, 0.118, 0.197, 0.26, 0.28, 0.276, 0.308, 0.31, 0.56, 0.355, 0.40,
               0.34, 0.23, 0.59, 0.69, 0.38, 0.69, 0.26, 0.62]

# ---------------- layout / axes ----------------
W, H = 981, 1297
fig = plt.figure(figsize=(W / 100, H / 100), dpi=100)

row_top = [12, 224, 437, 648, 860, 1071]
row_h = 178
ylab = 'Log(λF$_{\\mathregular{λ}}$ [W/cm$^{\\mathregular{2}}$])'


def panel(left, right, row):
    top = row_top[row]
    return fig.add_axes([left / W, 1 - (top + row_h) / H, (right - left) / W, row_h / H])


def style(ax, xlim, ylim, xmaj, xmin, yticks):
    ax.set_xscale('log')
    ax.set_xlim(xlim)
    ax.set_ylim(ylim)
    ax.set_xticks(xmaj, labels=[f'{v:g}' for v in xmaj])
    ax.set_xticks(xmin, minor=True)
    ax.xaxis.set_minor_formatter(NullFormatter())
    ax.set_yticks(yticks)
    ax.yaxis.set_major_formatter(FormatStrFormatter('%.1f'))
    ax.yaxis.set_minor_locator(NullLocator())
    for s in ax.spines.values():
        s.set_color('#8c8c8c')
    ax.tick_params(which='both', direction='out', length=4, width=1, labelsize=6.5,
                   top=False, right=False, pad=2)


def label(ax, text, size=10.6):
    ax.text(0.012, 0.025, text, transform=ax.transAxes, fontsize=size, ha='left', va='bottom')


nir_ticks = [1, 2, 3, 4, 5]
nir_minor = [1.5, 2.5, 3.5, 4.5]
sed_ticks = [2, 4, 6, 8, 10, 12]
sed_minor = [1, 3, 5, 7, 9, 11]
irs_ticks = [5, 6, 7, 8]
irs_minor = [5.5, 6.5, 7.5]
lm_ticks = [2, 3, 4]
lm_minor = [2.5, 3.5]
si_ticks = [8, 9, 10, 11, 12]
si_minor = [8.5, 9.5, 10.5, 11.5]
tau_ticks = [3, 6, 9, 12, 15, 18, 21]
tau_minor = [2.25, 3.75, 4.5, 5.25, 7.5, 10.5, 13.5, 16.5, 19.5, 22.5]
tau19_ticks = [2, 4, 6, 8, 10, 12, 14]
tau19_minor = [3, 5, 7, 9, 11, 13, 15]

RED, BLUE = '#ff0000', '#0000ff'
YLAB_SIZE = 11


def dots(ax, x, y, c, ms=3.2):
    ax.plot(x, y, 'o', color=c, ms=ms, mew=0)


# ===== row 1 : Per-18 =====
ax = panel(64.5, 322, 0)
ax.plot(p18_nir_k_x, p18_nir_k_y, color='k', lw=1.2)
for xs, ys in [(p18_nir_r1_x, p18_nir_r1_y), (p18_nir_r2_x, p18_nir_r2_y),
               (p18_nir_r3_x, p18_nir_r3_y), (p18_nir_r4_x, p18_nir_r4_y)]:
    ax.plot(xs, ys, color=RED, lw=0.8)
dots(ax, p18_nir_dot_x, p18_nir_dot_y, 'k')
style(ax, (0.918, 5.49), (-16.94, -15.687), nir_ticks, nir_minor, [-15.8, -16.0, -16.2, -16.4, -16.6, -16.8])
ax.set_ylabel(ylab, fontsize=YLAB_SIZE)
label(ax, '2MASS03384901+3130173 (Per-18)', 10)

ax = panel(366.7, 641.7, 0)
for xs, ys in [(p18_sed_k1_x, p18_sed_k1_y), (p18_sed_k2_x, p18_sed_k2_y), (p18_sed_k3_x, p18_sed_k3_y)]:
    ax.plot(xs, ys, color='k', lw=1.2)
ax.plot(p18_sed_red_x, p18_sed_red_y, color=RED, lw=0.8)
dots(ax, p18_sed_rdot_x, p18_sed_rdot_y, RED, 2.8)
dots(ax, p18_sed_kdot_x, p18_sed_kdot_y, 'k')
style(ax, (0.804, 12.0), (-19.0, -15.43), sed_ticks, sed_minor,
      [-15.5, -16.0, -16.5, -17.0, -17.5, -18.0, -18.5, -19.0])
label(ax, 'Per-18')

ax = panel(690, 967, 0)
ax.plot(p18_irs_red_x, p18_irs_red_y, color=RED, lw=1.0)
ax.plot(p18_irs_k_x, p18_irs_k_y, color='k', lw=1.2)
dots(ax, p18_irs_rdot_x, p18_irs_rdot_y, RED, 2.8)
dots(ax, p18_irs_kdot_x, p18_irs_kdot_y, 'k')
style(ax, (5, 8), (-17.326, -16.756), irs_ticks, irs_minor, [-16.8, -16.9, -17.0, -17.1, -17.2, -17.3])
label(ax, 'Per-18')

# ===== row 2 : Per-18 =====
ax = panel(64.5, 322, 1)
ax.plot(p18_lm_k1_x, p18_lm_k1_y, color='k', lw=1.0)
ax.plot(p18_lm_blue_x, p18_lm_blue_y, color=BLUE, lw=1.6)
ax.plot(p18_lm_k2_x, p18_lm_k2_y, color='k', lw=1.0)
ax.plot(p18_lm_r1_x, p18_lm_r1_y, color=RED, lw=0.8)
ax.plot(p18_lm_r2_x, p18_lm_r2_y, color=RED, lw=0.9)
ax.vlines(p18_lm_dip_x, p18_lm_dip_bot, p18_lm_dip_top, color=RED, lw=0.8)
dots(ax, p18_lm_dot_x[:1], p18_lm_dot_y[:1], RED, 3.4)
dots(ax, p18_lm_dot_x, p18_lm_dot_y, 'k', 2.6)
style(ax, (2, 4), (-16.574, -15.794), lm_ticks, lm_minor,
      [-15.8, -15.9, -16.0, -16.1, -16.2, -16.3, -16.4, -16.5])
ax.set_ylabel(ylab, fontsize=YLAB_SIZE)
label(ax, 'Per-18')

ax = panel(366.7, 641.7, 1)
ax.plot(p18_si_blue_x, p18_si_blue_y, color=BLUE, lw=1.0)
ax.plot(p18_si_k_x, p18_si_k_y, color='k', lw=1.3)
ax.plot(p18_si_red_x, p18_si_red_y, color=RED, lw=0.8)
style(ax, (8, 12), (-17.834, -17.30), si_ticks, si_minor, [-17.3, -17.4, -17.5, -17.6, -17.7, -17.8])
label(ax, 'Per-18')

ax = panel(701, 968, 1)
ax.axhline(0, color='k', lw=1.2, ls=(0, (4, 3)))
for xs, ys in [(p18_tau_a_x, p18_tau_a_y), (p18_tau_b_x, p18_tau_b_y), (p18_tau_c_x, p18_tau_c_y)]:
    ax.plot(xs, ys, color='k', lw=0.8)
style(ax, (2.0, 23.6), (0.70, -0.19), tau_ticks, tau_minor,
      [-0.1, 0.0, 0.1, 0.2, 0.3, 0.4, 0.5, 0.6, 0.7])
ax.set_ylabel('Optical Depth', fontsize=10.5)
label(ax, 'Per-18')

# ===== row 3 : Per-19 =====
ax = panel(64.5, 322, 2)
ax.plot(p19_nir_k2_x, p19_nir_k2_y, color='k', lw=1.0)
ax.plot(p19_nir_k3_x, p19_nir_k3_y, color='k', lw=1.4)
for xs, ys in [(p19_nir_r1_x, p19_nir_r1_y), (p19_nir_r2_x, p19_nir_r2_y), (p19_nir_r3_x, p19_nir_r3_y)]:
    ax.plot(xs, ys, color=RED, lw=0.8)
dots(ax, p19_nir_dot_x, p19_nir_dot_y, 'k')
style(ax, (0.924, 4.86), (-17.56, -16.713), [1, 2, 3, 4], nir_minor,
      [-16.8, -16.9, -17.0, -17.1, -17.2, -17.3, -17.4, -17.5])
ax.set_ylabel(ylab, fontsize=YLAB_SIZE)
label(ax, '2MASS03420993+3144139 (Per-19)', 10)

ax = panel(366.7, 641.7, 2)
for xs, ys in [(p19_sed_k1_x, p19_sed_k1_y), (p19_sed_k2_x, p19_sed_k2_y), (p19_sed_k3_x, p19_sed_k3_y)]:
    ax.plot(xs, ys, color='k', lw=1.1)
ax.plot(p19_sed_red_x, p19_sed_red_y, color=RED, lw=0.8)
dots(ax, p19_sed_rdot_x, p19_sed_rdot_y, RED, 2.8)
dots(ax, p19_sed_kdot_x, p19_sed_kdot_y, 'k')
style(ax, (0.804, 12.0), (-19.0, -16.30), sed_ticks, sed_minor,
      [-16.5, -17.0, -17.5, -18.0, -18.5, -19.0])
label(ax, 'Per-19')

ax = panel(690, 967, 2)
ax.plot(p19_irs_red_x, p19_irs_red_y, color=RED, lw=1.0)
ax.plot(p19_irs_k_x, p19_irs_k_y, color='k', lw=1.2)
dots(ax, p19_irs_rdot_x, p19_irs_rdot_y, RED, 2.8)
dots(ax, p19_irs_kdot_x, p19_irs_kdot_y, 'k', 2.8)
style(ax, (5, 8), (-18.2, -17.607), irs_ticks, irs_minor, [-17.7, -17.8, -17.9, -18.0, -18.1, -18.2])
label(ax, 'Per-19')

# ===== row 4 : Per-19 =====
ax = panel(64.5, 322, 3)
ax.plot(p19_lm_k1_x, p19_lm_k1_y, color='k', lw=1.2)
ax.plot(p19_lm_r1_x, p19_lm_r1_y, color=RED, lw=0.8)
ax.plot(p19_lm_blue_x, p19_lm_blue_y, color=BLUE, lw=1.0)
ax.plot(p19_lm_k2_x, p19_lm_k2_y, color='k', lw=1.0)
ax.plot(p19_lm_r2_x, p19_lm_r2_y, color=RED, lw=0.9)
dots(ax, p19_lm_dot_x, p19_lm_dot_y, 'k', 2.6)
style(ax, (2, 4), (-17.474, -16.748), lm_ticks, lm_minor,
      [-16.8, -16.9, -17.0, -17.1, -17.2, -17.3, -17.4])
ax.set_ylabel(ylab, fontsize=YLAB_SIZE)
label(ax, 'Per-19')

ax = panel(366.7, 641.7, 3)
ax.plot(p19_si_blue_x, p19_si_blue_y, color=BLUE, lw=1.0)
ax.plot(p19_si_k_x, p19_si_k_y, color='k', lw=1.3)
ax.plot(p19_si_red_x, p19_si_red_y, color=RED, lw=0.8)
style(ax, (8, 12), (-18.80, -18.17), si_ticks, si_minor,
      [-18.2, -18.3, -18.4, -18.5, -18.6, -18.7, -18.8])
label(ax, 'Per-19')

ax = panel(701, 968, 3)
ax.axhline(0, color='k', lw=1.2, ls=(0, (4, 3)))
for xs, ys in [(p19_tau_a_x, p19_tau_a_y), (p19_tau_b_x, p19_tau_b_y), (p19_tau_c_x, p19_tau_c_y)]:
    ax.plot(xs, ys, color='k', lw=0.8)
style(ax, (1.73, 16.0), (0.52, -0.216), tau19_ticks, tau19_minor,
      [-0.2, -0.1, 0.0, 0.1, 0.2, 0.3, 0.4, 0.5])
ax.set_ylabel('Optical Depth', fontsize=10.5)
label(ax, 'Per-19')

# ===== row 5 : Per-20 =====
ax = panel(64.5, 322, 4)
ax.plot(p20_nir_k2_x, p20_nir_k2_y, color='k', lw=1.2)
ax.plot(p20_nir_k3_x, p20_nir_k3_y, color='k', lw=1.3)
for xs, ys in [(p20_nir_r1_x, p20_nir_r1_y), (p20_nir_r2_x, p20_nir_r2_y),
               (p20_nir_r3_x, p20_nir_r3_y), (p20_nir_r4_x, p20_nir_r4_y)]:
    ax.plot(xs, ys, color=RED, lw=0.8)
dots(ax, p20_nir_dot_x, p20_nir_dot_y, 'k')
style(ax, (0.919, 5.40), (-17.266, -16.307), nir_ticks, nir_minor, [-16.4, -16.6, -16.8, -17.0, -17.2])
ax.set_ylabel(ylab, fontsize=YLAB_SIZE)
label(ax, '2MASS03431627+3155097 (Per-20)', 10)

ax = panel(366.7, 641.7, 4)
for xs, ys in [(p20_sed_k1_x, p20_sed_k1_y), (p20_sed_k2_x, p20_sed_k2_y), (p20_sed_k3_x, p20_sed_k3_y)]:
    ax.plot(xs, ys, color='k', lw=1.1)
ax.plot(p20_sed_red_x, p20_sed_red_y, color=RED, lw=0.8)
dots(ax, p20_sed_rdot_x, p20_sed_rdot_y, RED, 2.8)
dots(ax, p20_sed_kdot_x, p20_sed_kdot_y, 'k')
style(ax, (0.804, 12.0), (-19.0, -15.81), sed_ticks, sed_minor,
      [-16.0, -16.5, -17.0, -17.5, -18.0, -18.5, -19.0])
label(ax, 'Per-20')

ax = panel(690, 967, 4)
ax.plot(p20_irs_red_x, p20_irs_red_y, color=RED, lw=1.0)
ax.plot(p20_irs_k_x, p20_irs_k_y, color='k', lw=1.2)
dots(ax, p20_irs_rdot_x, p20_irs_rdot_y, RED, 2.8)
dots(ax, p20_irs_kdot_x, p20_irs_kdot_y, 'k', 2.8)
style(ax, (5, 8), (-17.686, -17.164), irs_ticks, irs_minor, [-17.2, -17.3, -17.4, -17.5, -17.6])
label(ax, 'Per-20')

# ===== row 6 : Per-20 =====
ax = panel(64.5, 322, 5)
ax.plot(p20_lm_k1_x, p20_lm_k1_y, color='k', lw=1.2)
ax.plot(p20_lm_r1_x, p20_lm_r1_y, color=RED, lw=0.8)
ax.plot(p20_lm_blue_x, p20_lm_blue_y, color=BLUE, lw=1.0)
ax.plot(p20_lm_k2_x, p20_lm_k2_y, color='k', lw=1.0)
ax.plot(p20_lm_r2_x, p20_lm_r2_y, color=RED, lw=0.9)
dots(ax, p20_lm_kdot_x, p20_lm_kdot_y, 'k', 3.0)
dots(ax, p20_lm_rdot_x, p20_lm_rdot_y, RED, 2.6)
style(ax, (2, 4), (-17.013, -16.37), lm_ticks, lm_minor,
      [-16.4, -16.5, -16.6, -16.7, -16.8, -16.9, -17.0])
ax.set_ylabel(ylab, fontsize=YLAB_SIZE)
ax.set_xlabel('λ (µm)', fontsize=10)
label(ax, 'Per-20')

ax = panel(366.7, 641.7, 5)
ax.plot(p20_si_blue_x, p20_si_blue_y, color=BLUE, lw=1.0)
ax.plot(p20_si_k_x, p20_si_k_y, color='k', lw=1.3)
ax.plot(p20_si_red_x, p20_si_red_y, color=RED, lw=0.8)
style(ax, (8, 12), (-18.286, -17.653), si_ticks, si_minor,
      [-17.7, -17.8, -17.9, -18.0, -18.1, -18.2])
ax.set_xlabel('λ (µm)', fontsize=10)
label(ax, 'Per-20')

ax = panel(701, 968, 5)
ax.axhline(0, color='k', lw=1.2, ls=(0, (4, 3)))
for xs, ys in [(p20_tau_a_x, p20_tau_a_y), (p20_tau_b_x, p20_tau_b_y), (p20_tau_c_x, p20_tau_c_y)]:
    ax.plot(xs, ys, color='k', lw=0.8)
style(ax, (2.0, 23.6), (0.692, -0.15), tau_ticks, tau_minor,
      [-0.1, 0.0, 0.1, 0.2, 0.3, 0.4, 0.5, 0.6])
ax.set_ylabel('Optical Depth', fontsize=10.5)
ax.set_xlabel('λ (µm)', fontsize=10)
label(ax, 'Per-20')

fig.savefig('out.png', dpi=100, facecolor='white')
